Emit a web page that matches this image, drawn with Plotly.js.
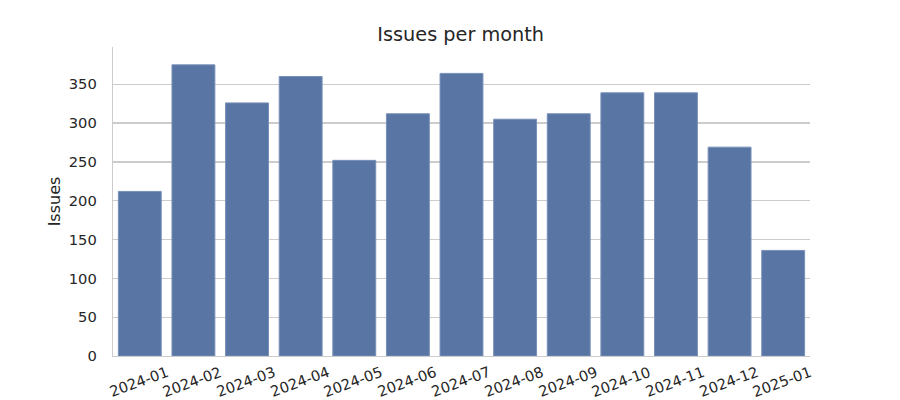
<!DOCTYPE html>
<html>
<head>
<meta charset="utf-8">
<script src="https://cdn.plot.ly/plotly-3.0.1.min.js"></script>
<style>html,body{margin:0;padding:0;background:#fff;}#chart{width:900px;height:400px;}</style>
</head>
<body>
<div id="chart"></div>
<script>
const months = ["2024-01","2024-02","2024-03","2024-04","2024-05","2024-06","2024-07","2024-08","2024-09","2024-10","2024-11","2024-12","2025-01"];
const issues = [212, 375, 326, 360, 252, 312, 364, 305, 312, 339, 339, 269, 136];
const yTicks = [0, 50, 100, 150, 200, 250, 300, 350];

const font = "DejaVu Sans, sans-serif";
const textColor = "#262626";

const trace = {
  type: "bar",
  x: months.map((m, i) => i),
  y: issues,
  width: 0.8,
  marker: {color: "#5975a4", line: {color: "#7890b8", width: 1}},
  hoverinfo: "skip"
};

const annotations = months.map((m, i) => ({
  x: i, xref: "x", y: 0, yref: "paper",
  text: m, showarrow: false, textangle: -20, borderpad: 0,
  xanchor: "center", yanchor: "middle", yshift: -25, xshift: -1.5,
  font: {family: font, size: 14.7, color: textColor}
}));

const layout = {
  width: 900, height: 400,
  margin: {l: 113, r: 90, t: 46.7, b: 44},
  paper_bgcolor: "#ffffff", plot_bgcolor: "#ffffff",
  showlegend: false,
  title: {text: "Issues per month", font: {family: font, size: 19.3, color: textColor},
          x: 460.7/900, xanchor: "center", y: 1 - 34.5/400, yanchor: "middle", yref: "container"},
  xaxis: {
    range: [-0.5, 12.5], tickvals: months.map((m, i) => i), showticklabels: false,
    showgrid: false, zeroline: false, showline: true, linecolor: "#cccccc", linewidth: 1.3,
    ticks: ""
  },
  yaxis: {
    range: [0, 398], tickvals: yTicks, ticktext: yTicks.map(String),
    showgrid: true, gridcolor: "#cccccc", gridwidth: 1.3,
    zeroline: false, showline: true, linecolor: "#cccccc", linewidth: 1.3,
    ticks: "", ticklabelstandoff: 12,
    tickfont: {family: font, size: 14.7, color: textColor},
    title: {text: "Issues", font: {family: font, size: 16, color: textColor}, standoff: 4}
  },
  annotations: annotations,
  bargap: 0.2
};

Plotly.newPlot("chart", [trace], layout, {displayModeBar: false, staticPlot: true});
</script>
</body>
</html>
